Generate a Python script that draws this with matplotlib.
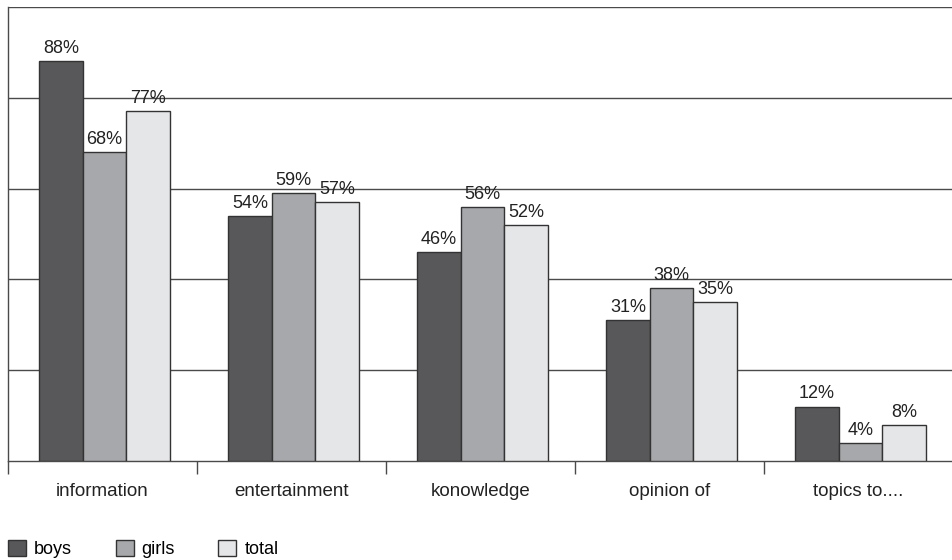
import numpy as np
import matplotlib.pyplot as plt
from matplotlib.patches import Patch

plt.rcParams['font.family'] = ['Liberation Sans', 'DejaVu Sans']

categories = ['information', 'entertainment', 'konowledge', 'opinion of', 'topics to....']
boys = [88, 54, 46, 31, 12]
girls = [68, 59, 56, 38, 4]
total = [77, 57, 52, 35, 8]

series = [('boys', boys, '#58585a'), ('girls', girls, '#a7a8ab'), ('total', total, '#e5e6e8')]
edge = '#333333'
line = '#4a4a4a'

fig = plt.figure(figsize=(9.52, 5.6), dpi=100)
ax = fig.add_axes([8 / 952, 99 / 560, 945 / 952, 454 / 560])

x = np.arange(len(categories))
w = 0.23
for i, (name, vals, col) in enumerate(series):
    pos = x + (i - 1) * w + 0.01
    bars = ax.bar(pos, vals, w, color=col, edgecolor=edge, linewidth=1, zorder=3)
    for b, v in zip(bars, vals):
        ax.annotate(f'{v}%', (b.get_x() + b.get_width() / 2, v), xytext=(0, 3),
                    textcoords='offset points', ha='center', va='bottom',
                    fontsize=13, color='#222222')

ax.set_xlim(-0.5, len(categories) - 0.5)
ax.set_ylim(0, 100)
ax.set_yticks([20, 40, 60, 80, 100])
ax.yaxis.grid(True, color=line, linewidth=1)
ax.set_axisbelow(True)
ax.tick_params(axis='y', left=False, labelleft=False)

# boundary ticks below the axis, category names centred between them
ax.set_xticks(np.arange(-0.5, len(categories)), labels=[''] * (len(categories) + 1))
ax.tick_params(axis='x', which='major', length=9, width=1, color=line, direction='out')
ax.set_xticks(x, labels=categories, minor=True)
ax.tick_params(axis='x', which='minor', length=0, pad=16, labelsize=13.5, labelcolor='#222222')

for s in ['top', 'right']:
    ax.spines[s].set_visible(False)
for s in ['left', 'bottom']:
    ax.spines[s].set_color(line)
    ax.spines[s].set_linewidth(1)

handles = [Patch(facecolor=c, edgecolor=edge, label=n) for n, _, c in series]
fig.legend(handles=handles, loc='lower left', bbox_to_anchor=(8 / 952, 2 / 560), ncol=3,
           frameon=False, fontsize=13, handlelength=1.0, handleheight=1.0,
           handletextpad=0.45, columnspacing=2.4, borderpad=0, borderaxespad=0)

fig.savefig('out.png', dpi=100)
